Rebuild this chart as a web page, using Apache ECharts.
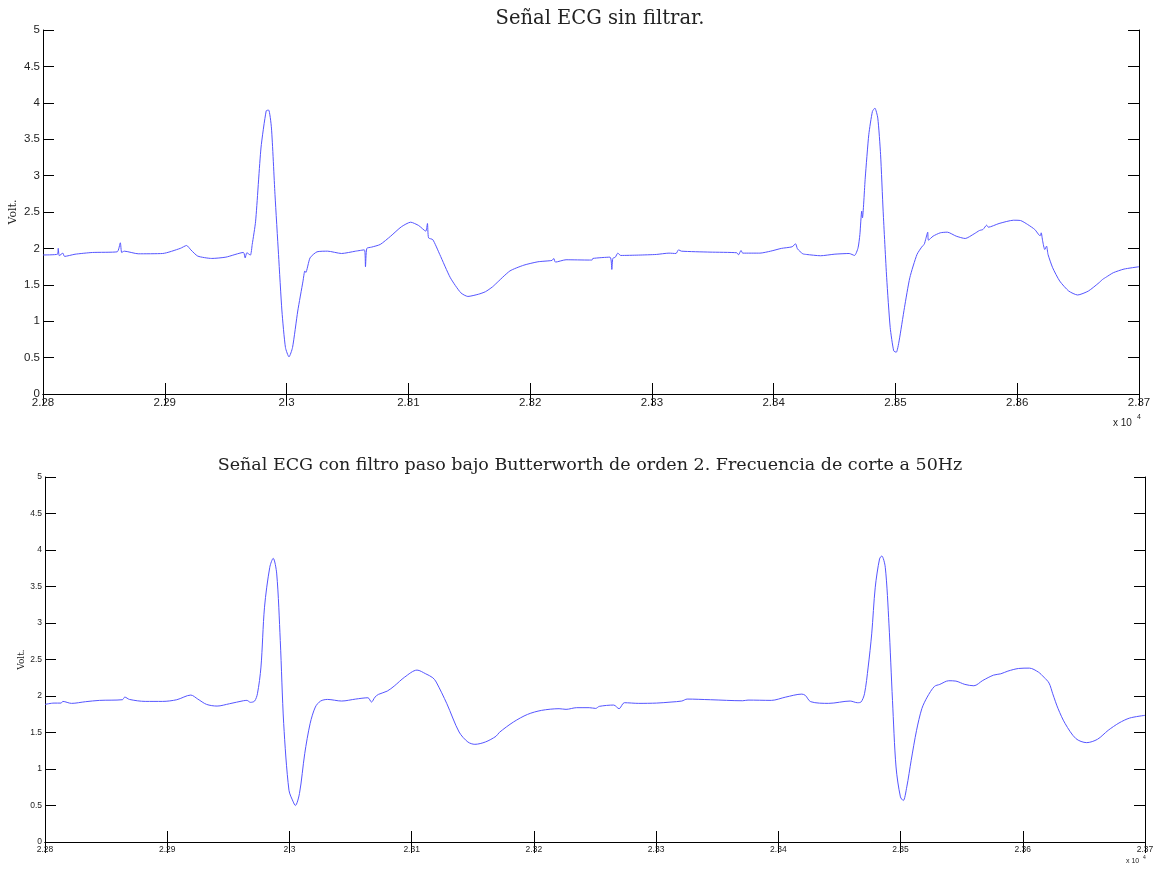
<!DOCTYPE html>
<html>
<head>
<meta charset="utf-8">
<script src="https://cdn.jsdelivr.net/npm/echarts@6/dist/echarts.min.js"></script>
<style>html,body{margin:0;padding:0;background:#fff}#c{width:1156px;height:870px}</style>
</head>
<body>
<div id="c"></div>
<script>
// ---- data (sample index, volts) ----
const titleTop = 'Señal ECG sin filtrar.';
const titleBottom = 'Señal ECG con filtro paso bajo Butterworth de orden 2. Frecuencia de corte a 50Hz';
const yName = 'Volt.';

const xRaw = [22800,22811.9,22812.5,22813.4,22816.3,22817.7,22826.3,22840.7,22860.9,22863.5,22864.6,22866.7,22878.2,22898.3,22912.7,22917.9,22921.4,22927.1,22938.6,22950.2,22964.6,22966,22967.4,22970.3,22971.8,22974.6,22979,22983.3,22985.3,22987.6,22990.5,22993.4,22996.2,22999.1,23002,23004.9,23009.2,23013.5,23015,23015.8,23019.3,23025,23033.7,23045.2,23056.7,23063.9,23064.8,23065.9,23069.7,23076.9,23085.5,23094.2,23101.9,23108.5,23114.3,23115.7,23116.6,23120.1,23125.8,23134.5,23143.1,23148.9,23157.5,23163.3,23169,23171.9,23183.4,23194.9,23206.4,23218,23219.4,23220.8,23229.5,23248.5,23250.9,23251.5,23265.6,23267.1,23267.9,23270,23272,23274.4,23289,23303.7,23314,23319.8,23321.9,23324.2,23347.7,23369.7,23371.1,23373.2,23374.6,23388.7,23397.5,23406.3,23415.1,23418,23419.5,23423.9,23426.8,23438.5,23450.3,23462,23466.4,23469.3,23470.8,23472.3,23472.9,23475.2,23478.1,23481.1,23483.1,23485.5,23487.8,23489.9,23492.8,23495.7,23498.6,23500.7,23503,23507.4,23511.8,23517.7,23522.1,23523.6,23525,23526.5,23527.1,23530.9,23536.8,23542.6,23549.9,23557.3,23564.6,23569,23571.9,23574.9,23576.3,23585.1,23596.9,23602.7,23608.6,23614.4,23618.8,23619.7,23620.9,23622.6,23624.1,23625.3,23629.1,23634.9,23642.3,23649.6,23658.4,23667.2,23670.1,23673.1,23678.9,23687.7,23700];
const vRaw = [1.91,1.92,2.00,1.90,1.935,1.89,1.92,1.944,1.953,2.077,1.944,1.962,1.926,1.93,2.00,2.04,1.98,1.894,1.862,1.88,1.944,1.87,1.94,1.908,2.054,2.374,3.379,3.89,3.90,3.653,2.739,1.917,1.14,0.638,0.51,0.638,1.14,1.55,1.69,1.67,1.87,1.953,1.962,1.93,1.962,1.98,1.748,2.0,2.017,2.054,2.168,2.296,2.36,2.314,2.237,2.342,2.145,2.12,1.917,1.597,1.39,1.34,1.37,1.405,1.47,1.515,1.69,1.77,1.816,1.835,1.862,1.812,1.844,1.84,1.84,1.862,1.88,1.711,1.862,1.88,1.935,1.903,1.908,1.917,1.935,1.93,1.98,1.962,1.949,1.94,1.912,1.971,1.935,1.935,1.962,2.0,2.022,2.063,1.995,1.926,1.917,1.899,1.921,1.93,1.903,2.008,2.191,2.511,2.419,2.968,3.561,3.881,3.927,3.79,3.287,2.511,1.597,0.912,0.592,0.574,0.729,1.186,1.597,1.917,2.031,2.054,2.136,2.223,2.113,2.168,2.214,2.223,2.168,2.136,2.2,2.246,2.26,2.319,2.291,2.342,2.387,2.383,2.328,2.26,2.173,2.214,2.1,1.985,2.031,1.917,1.734,1.551,1.414,1.36,1.414,1.529,1.574,1.606,1.666,1.716,1.748];

const xFilt = [22800,22807.4,22813.1,22814.6,22821.7,22833.2,22844.7,22863.3,22865.3,22869.1,22882,22896.3,22907.8,22919.3,22925,22932.2,22940.8,22950.9,22962.3,22965.2,22968.1,22971.5,22973.8,22976.7,22979.6,22983.9,22986.7,22989.6,22992.5,22995.3,22999.6,23003.1,23004.8,23008.2,23012.5,23016.9,23021.2,23025.5,23031.2,23042.7,23054.2,23064.2,23067.1,23070,23072.8,23080,23085.7,23094.3,23104.4,23111.5,23117.3,23120.1,23128.8,23138.8,23146,23151.7,23160.3,23169,23171.8,23183.3,23194.8,23206.2,23220.6,23226.3,23235,23245.3,23250.6,23253.5,23265.3,23269.7,23274,23285.8,23300.4,23312.2,23321,23325.4,23344.4,23370.8,23375.2,23394.3,23406,23419.2,23422.1,23426.5,23441.2,23458.8,23464.7,23467.6,23470.5,23473.5,23476.4,23479.3,23482.8,23484.6,23487.5,23490.5,23493.4,23496.3,23499.9,23502.2,23505.1,23508.7,23513.1,23517.4,23521.8,23527.7,23532.1,23539.4,23545.3,23552.6,23560,23567.3,23576.1,23582,23587.8,23596.6,23605.4,23612.8,23617.2,23621.5,23624.5,23628.9,23634.7,23643.5,23652.3,23661.1,23669.9,23678.7,23687.5,23700];
const vFilt = [1.885,1.903,1.903,1.926,1.899,1.922,1.94,1.949,1.985,1.953,1.926,1.926,1.949,2.013,1.958,1.885,1.862,1.894,1.935,1.94,1.913,1.931,2.031,2.396,3.216,3.763,3.886,3.672,2.76,1.621,0.709,0.55,0.5,0.664,1.21,1.621,1.849,1.931,1.953,1.931,1.958,1.976,1.917,1.985,2.022,2.067,2.136,2.259,2.355,2.304,2.25,2.191,1.894,1.507,1.37,1.338,1.37,1.448,1.502,1.644,1.748,1.803,1.826,1.817,1.84,1.84,1.83,1.858,1.876,1.826,1.908,1.899,1.903,1.917,1.931,1.958,1.949,1.935,1.944,1.94,1.985,2.026,2.008,1.922,1.899,1.931,1.908,1.917,2.031,2.396,2.851,3.49,3.877,3.918,3.763,2.988,1.94,1.028,0.618,0.568,0.755,1.119,1.53,1.826,1.985,2.131,2.159,2.209,2.204,2.159,2.14,2.213,2.286,2.304,2.341,2.377,2.382,2.327,2.259,2.177,2.031,1.826,1.621,1.416,1.361,1.407,1.53,1.63,1.698,1.735];

const xMin = 22800, xMax = 23700, xStep = 100;
const yMin = 0, yMax = 5, yStep = 0.5;

// ---- chart ----
const lineColor = '#5555ff';
const fmtX = v => String(+(v / 10000).toFixed(2));

function axesFor(gi, labelSize, nameSize, nameGap) {
  const tick = { show: true, inside: true, length: 11, lineStyle: { color: '#000', width: 1 } };
  const line = { show: true, lineStyle: { color: '#000', width: 1 } };
  return {
    x: [
      { type: 'value', gridIndex: gi, min: xMin, max: xMax, interval: xStep, position: 'bottom',
        axisLine: line, axisTick: tick, splitLine: { show: false },
        axisLabel: { formatter: fmtX, fontFamily: 'Liberation Sans', fontSize: labelSize, color: '#222', margin: 3, showMinLabel: true, showMaxLabel: true } },
      { type: 'value', gridIndex: gi, min: xMin, max: xMax, interval: xStep, position: 'top',
        axisLine: line, axisTick: tick, splitLine: { show: false }, axisLabel: { show: false } }
    ],
    y: [
      { type: 'value', gridIndex: gi, min: yMin, max: yMax, interval: yStep, position: 'left',
        name: yName, nameLocation: 'middle', nameGap: nameGap, nameRotate: 90, nameMoveOverlap: false,
        nameTextStyle: { fontFamily: 'DejaVu Serif', fontSize: nameSize, color: '#222' },
        axisLine: line, axisTick: tick, splitLine: { show: false },
        axisLabel: { fontFamily: 'Liberation Sans', fontSize: labelSize, color: '#222', margin: 3, showMinLabel: true, showMaxLabel: true } },
      { type: 'value', gridIndex: gi, min: yMin, max: yMax, interval: yStep, position: 'right',
        axisLine: line, axisTick: tick, splitLine: { show: false }, axisLabel: { show: false } }
    ]
  };
}

const a0 = axesFor(0, 11.5, 11, 24);
const a1 = axesFor(1, 8.5, 9, 19);

const chart = echarts.init(document.getElementById('c'), null, { renderer: 'canvas' });
chart.setOption({
  animation: false,
  backgroundColor: '#fff',
  title: [
    { text: titleTop, left: 595, top: 4, textAlign: 'center',
      textStyle: { fontFamily: 'DejaVu Serif', fontWeight: 'normal', fontSize: 19.5, color: '#222' } },
    { text: titleBottom, left: 585, top: 451, textAlign: 'center',
      textStyle: { fontFamily: 'DejaVu Serif', fontWeight: 'normal', fontSize: 17.5, color: '#222' } }
  ],
  grid: [
    { left: 43, top: 30, width: 1096, height: 364, outerBoundsMode: 'none', containLabel: false },
    { left: 45, top: 477, width: 1100, height: 365, outerBoundsMode: 'none', containLabel: false }
  ],
  xAxis: [...a0.x, ...a1.x],
  yAxis: [...a0.y, ...a1.y],
  series: [
    { type: 'line', xAxisIndex: 0, yAxisIndex: 0, showSymbol: false, symbol: 'none', smooth: 0.2,
      lineStyle: { color: lineColor, width: 1 }, data: xRaw.map((x, i) => [x, vRaw[i]]) },
    { type: 'line', xAxisIndex: 2, yAxisIndex: 2, showSymbol: false, symbol: 'none', smooth: 0.3,
      lineStyle: { color: lineColor, width: 1 }, data: xFilt.map((x, i) => [x, vFilt[i]]) }
  ],
  graphic: [
    { type: 'text', left: 1113, top: 418, style: { text: 'x 10', font: '10px Liberation Sans', fill: '#222' } },
    { type: 'text', left: 1137, top: 414, style: { text: '4', font: '7px Liberation Sans', fill: '#222' } },
    { type: 'text', left: 1126, top: 858, style: { text: 'x 10', font: '7px Liberation Sans', fill: '#222' } },
    { type: 'text', left: 1143, top: 855, style: { text: '4', font: '5px Liberation Sans', fill: '#222' } }
  ]
});
</script>
</body>
</html>
